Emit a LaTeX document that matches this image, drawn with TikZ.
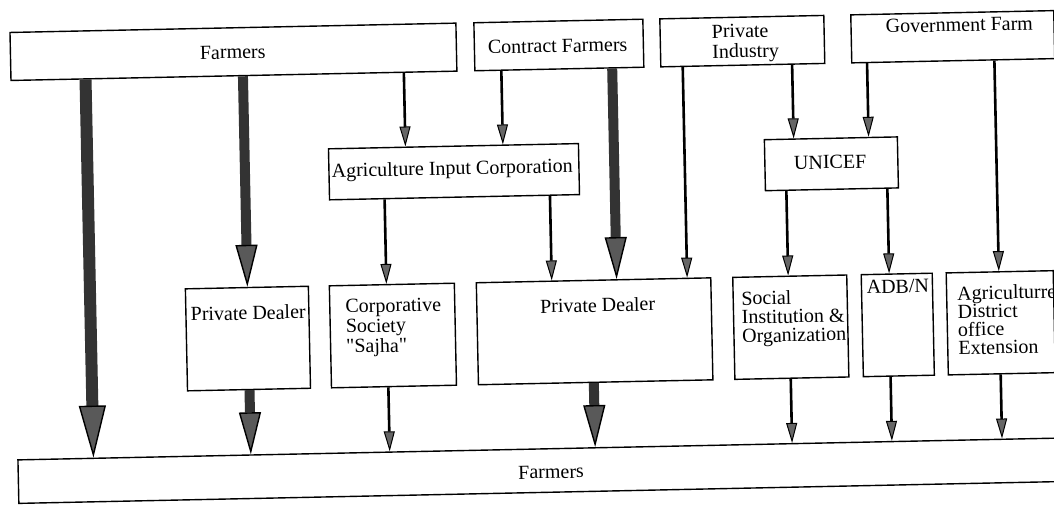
\documentclass[tikz,border=0pt]{standalone}
\usepackage{fontspec}
\setmainfont{Liberation Serif}
% same face without the TeX ligature mapping, for straight double quotes
\newfontfamily\straightq{Liberation Serif}[Ligatures=TeXOff]
\usetikzlibrary{arrows.meta,calc}

% vertical link from a point on the lower edge of #2 (fraction #3 of its width)
% straight down onto the upper edge of #4
\newcommand{\linkdown}[4]{%
  \path ($(#2.south west)!#3!(#2.south east)$) coordinate (lk);
  \draw[#1] (lk) -- ($(#4.north west)!(lk)!(#4.north east)$);}

\begin{document}
\begin{tikzpicture}[x=0.5pt,y=-0.5pt,
  box/.style={draw=black, line width=0.7pt, inner sep=0pt, anchor=north west},
  lbl/.style={inner sep=0pt, font=\fontsize{10}{9.6}\selectfont},
  lbll/.style={lbl, align=left, anchor=north west},
  thinarrow/.style={line width=1.3pt,
    -{Triangle[width=5.5pt,length=10pt,color=black,fill=black!60,line width=0.5pt]}},
  thickarrow/.style={line width=5pt, draw=black!80,
    -{Triangle[width=11pt,length=21pt,color=black,fill=black!65,line width=0.7pt]}},
  widearrow/.style={line width=6pt, draw=black!80,
    -{Triangle[width=13.5pt,length=26pt,color=black,fill=black!65,line width=0.7pt]}}
]
\useasboundingbox (0,0) rectangle (1054,506);
\clip (0,0) rectangle (1054,506);

\begin{scope}[rotate around={1.2:(527,253)}, every node/.append style={transform shape}]
  % top row
  \node[box, minimum width=223pt, minimum height=24pt] (farmTop) at (14,21) {};
  \node[box, minimum width=84.5pt, minimum height=24pt] (cf) at (478,21) {};
  \node[box, minimum width=82pt, minimum height=24pt] (pi) at (664,21) {};
  \node[box, minimum width=101.5pt, minimum height=24pt] (gf) at (855,21) {};
  % second row
  \node[box, minimum width=125pt, minimum height=25.5pt] (aic) at (330,144) {};
  \node[box, minimum width=66.5pt, minimum height=25.5pt] (uni) at (766,144) {};
  % third row
  \node[box, minimum width=61.5pt, minimum height=51pt] (pdl) at (184,281) {};
  \node[box, minimum width=62.5pt, minimum height=51pt] (cs) at (328,281) {};
  \node[box, minimum width=117.25pt, minimum height=51pt] (pdc) at (475,281) {};
  \node[box, minimum width=57pt, minimum height=51pt] (si) at (731.5,281) {};
  \node[box, minimum width=35.5pt, minimum height=51pt] (adb) at (860,281) {};
  \node[box, minimum width=53.5pt, minimum height=51pt] (ad) at (945,281) {};
  % bottom row
  \node[box, minimum width=543.5pt, minimum height=21.75pt] (farmBot) at (13,448.5) {};

  % labels
  \node[lbl] (tFarmTop) at (237,46) {Farmers};
  \node[lbl] (tCf) at (562,46.5) {Contract Farmers};
  \node[lbll, font=\fontsize{10}{10}\selectfont] (tPi) at (716,28.5) {Private\\Industry};
  \node[lbl] (tGf) at (964,34) {Government Farm};
  \node[lbl] (tAic) at (454,168.5) {Agriculture Input Corporation};
  \node[lbl] (tUni) at (832,168.5) {UNICEF};
  \node[lbl] (tPdl) at (247,307) {Private Dealer};
  \node[lbll, font=\fontsize{10}{10}\selectfont] (tCs) at (344,295.5)
    {Corporative\\Society\\{\straightq"}Sajha{\straightq"}};
  \node[lbl] (tPdc) at (596.5,306.5) {Private Dealer};
  \node[lbll, font=\fontsize{10}{9.4}\selectfont] (tSi) at (740,295.3) {Social\\Institution \&\\Organization};
  \node[lbl] (tAdb) at (897,294.4) {ADB/N};
  \node[lbll, font=\fontsize{10}{9.1}\selectfont] (tAd) at (956,294.8) {Agriculturre\\District\\office\\Extension};
  \node[lbl] (tFarmBot) at (546.5,472.5) {Farmers};

  % heavy flows
  \linkdown{widearrow}{farmTop}{0.1682}{farmBot}
  \linkdown{thickarrow}{farmTop}{0.5202}{pdl}
  \linkdown{thickarrow}{pdl}{0.5041}{farmBot}
  \linkdown{thickarrow}{cf}{0.8107}{pdc}
  \linkdown{thickarrow}{pdc}{0.4925}{farmBot}

  % light flows
  \linkdown{thinarrow}{farmTop}{0.8800}{aic}
  \linkdown{thinarrow}{cf}{0.1598}{aic}
  \linkdown{thinarrow}{aic}{0.2220}{cs}
  \linkdown{thinarrow}{aic}{0.8800}{pdc}
  \linkdown{thinarrow}{pi}{0.1372}{pdc}
  \linkdown{thinarrow}{pi}{0.7988}{uni}
  \linkdown{thinarrow}{gf}{0.0788}{uni}
  \linkdown{thinarrow}{gf}{0.7020}{ad}
  \linkdown{thinarrow}{uni}{0.1617}{si}
  \linkdown{thinarrow}{uni}{0.9135}{adb}
  \linkdown{thinarrow}{si}{0.4912}{farmBot}
  \linkdown{thinarrow}{adb}{0.3873}{farmBot}
  \linkdown{thinarrow}{ad}{0.4907}{farmBot}
  \linkdown{thinarrow}{cs}{0.4560}{farmBot}
\end{scope}
\end{tikzpicture}
\end{document}
